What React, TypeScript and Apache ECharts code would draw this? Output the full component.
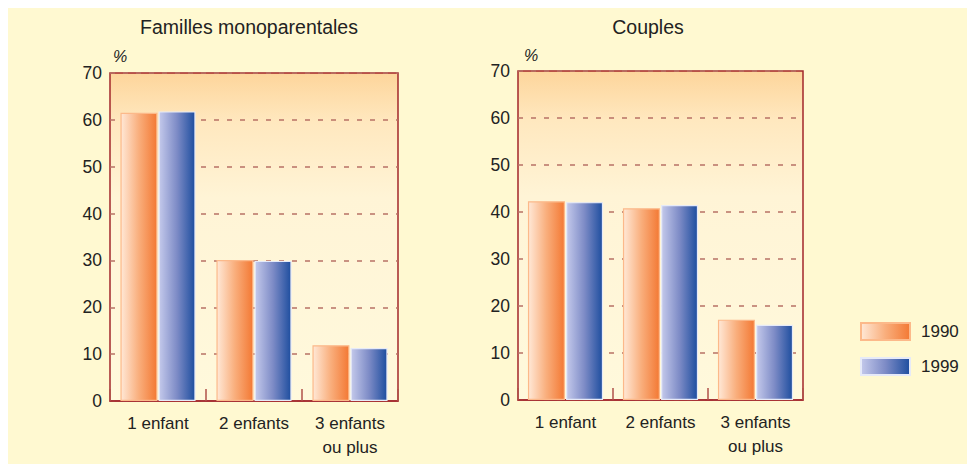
import React, { useEffect, useRef } from "react";
import * as echarts from "echarts";

const categories = ["1 enfant", "2 enfants", "3 enfants\nou plus"];
const seriesNames = ["1990", "1999"];
const mono1990 = [61.5, 30.1, 11.9];
const mono1999 = [61.8, 29.9, 11.3];
const couples1990 = [42.3, 40.8, 17.1];
const couples1999 = [42.1, 41.5, 16.0];
const panelTitles = ["Familles monoparentales", "Couples"];
const unitLabel = "%";
const yMin = 0;
const yMax = 70;
const yStep = 10;

const SANS = "'Liberation Sans', Arial, sans-serif";
const RED = "#A3272B";
const GRIDLINE = "#B87266";

const orangeGrad = {
  type: "linear", x: 0, y: 0, x2: 1, y2: 0,
  colorStops: [
    { offset: 0, color: "#FFE8D6" },
    { offset: 0.5, color: "#F9AE7C" },
    { offset: 1, color: "#F37934" },
  ],
};
const blueGrad = {
  type: "linear", x: 0, y: 0, x2: 1, y2: 0,
  colorStops: [
    { offset: 0, color: "#C4C9EB" },
    { offset: 0.5, color: "#7D8BC6" },
    { offset: 1, color: "#1E4E9F" },
  ],
};
const plotGrad = {
  type: "linear", x: 0, y: 0, x2: 0, y2: 1,
  colorStops: [
    { offset: 0, color: "#FDD59B" },
    { offset: 0.15, color: "#FFE8BF" },
    { offset: 0.38, color: "#FFF4D6" },
    { offset: 1, color: "#FFF9DC" },
  ],
};

function makeX(gridIndex: number) {
  return {
    type: "category",
    gridIndex,
    data: categories,
    axisLine: { show: true, lineStyle: { color: RED, width: 1.5 } },
    axisTick: { show: true, inside: true, length: 12, interval: 0, alignWithLabel: false, lineStyle: { color: "#B0504A", width: 1.5 } },
    axisLabel: { interval: 0, margin: 10, color: "#222", fontSize: 17, fontFamily: SANS, lineHeight: 24 },
    splitLine: { show: false },
  };
}
function makeY(gridIndex: number) {
  return {
    type: "value",
    gridIndex,
    min: yMin,
    max: yMax,
    interval: yStep,
    axisLine: { show: false },
    axisTick: { show: false },
    axisLabel: { margin: 8, color: "#222", fontSize: 17.5, fontFamily: SANS },
    splitLine: { show: true, lineStyle: { color: GRIDLINE, width: 1.5, type: [5, 8] } },
  };
}
function makeBar(name: string, data: number[], idx: number, grad: any, border: string) {
  return {
    type: "bar",
    name,
    xAxisIndex: idx,
    yAxisIndex: idx,
    data,
    barWidth: 37,
    barGap: "3%",
    itemStyle: { color: grad, borderColor: border, borderWidth: 1.2 },
  };
}

export default function App() {
  const ref = useRef<HTMLDivElement>(null);
  useEffect(() => {
    if (!ref.current) return;
    const chart = echarts.init(ref.current, null, { renderer: "svg" });
    const gridBase = {
      show: true,
      backgroundColor: plotGrad,
      borderColor: RED,
      borderWidth: 1.5,
      containLabel: false,
    };
    chart.setOption({
      animation: false,
      backgroundColor: "#FFF9D1",
      textStyle: { fontFamily: SANS },
      grid: [
        { ...gridBase, left: 102, top: 66, width: 288, height: 328 },
        { ...gridBase, left: 510, top: 64, width: 285, height: 329 },
      ],
      xAxis: [makeX(0), makeX(1)],
      yAxis: [makeY(0), makeY(1)],
      legend: {
        data: seriesNames,
        orient: "vertical",
        left: 852,
        top: 315,
        padding: 0,
        itemWidth: 49,
        itemHeight: 17,
        itemGap: 16,
        icon: "rect",
        textStyle: { color: "#222", fontSize: 17, fontFamily: SANS, padding: [0, 0, 0, 6] },
      },
      graphic: [
        { type: "text", x: 241, y: 20, style: { text: panelTitles[0], font: `19.5px ${SANS}`, fill: "#222", textAlign: "center", textVerticalAlign: "middle", align: "center", verticalAlign: "middle" } },
        { type: "text", x: 640, y: 20, style: { text: panelTitles[1], font: `19.5px ${SANS}`, fill: "#222", textAlign: "center", textVerticalAlign: "middle", align: "center", verticalAlign: "middle" } },
        { type: "text", x: 105, y: 49, style: { text: unitLabel, font: `italic 16px ${SANS}`, fill: "#222", textVerticalAlign: "middle", verticalAlign: "middle" } },
        { type: "text", x: 516, y: 48, style: { text: unitLabel, font: `italic 16px ${SANS}`, fill: "#222", textVerticalAlign: "middle", verticalAlign: "middle" } },
      ],
      series: [
        makeBar(seriesNames[0], mono1990, 0, orangeGrad, "#FCB98A"),
        makeBar(seriesNames[1], mono1999, 0, blueGrad, "#E6EAF8"),
        makeBar(seriesNames[0], couples1990, 1, orangeGrad, "#FCB98A"),
        makeBar(seriesNames[1], couples1999, 1, blueGrad, "#E6EAF8"),
      ],
    });
    return () => chart.dispose();
  }, []);
  return <div ref={ref} style={{ width: 967, height: 457, marginTop: -1 }} />;
}
